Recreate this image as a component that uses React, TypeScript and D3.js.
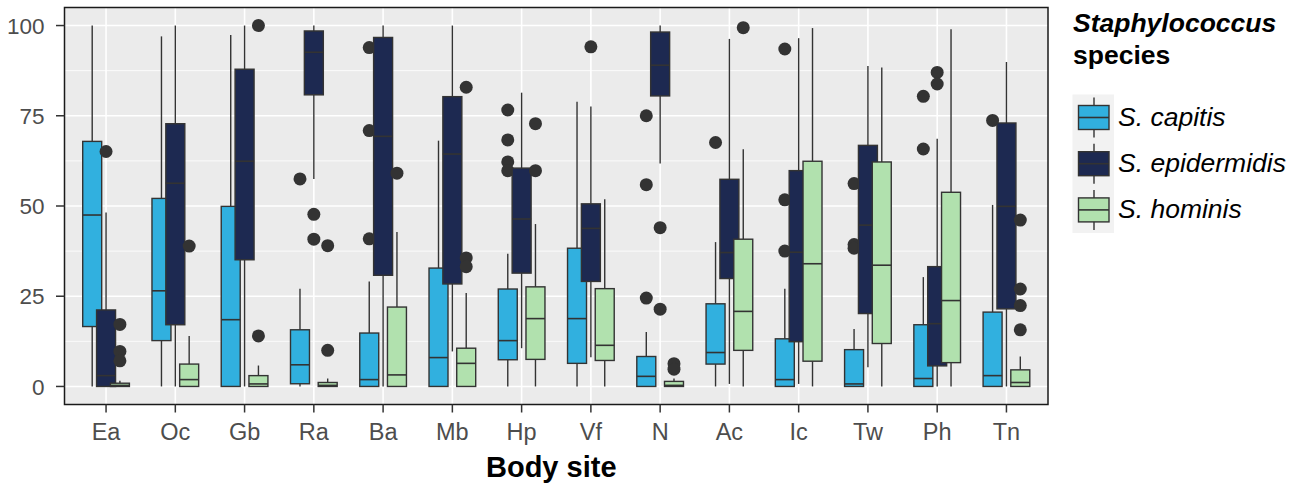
import React from "react";
import * as d3 from "d3";

// body sites on the x axis
const sites = ["Ea", "Oc", "Gb", "Ra", "Ba", "Mb", "Hp", "Vf", "N", "Ac", "Ic", "Tw", "Ph", "Tn"];
const species = ["S. capitis", "S. epidermidis", "S. hominis"];
const yTicks = [0, 25, 50, 75, 100];

// [lower whisker, q1, median, q3, upper whisker] per site
const capitisStats = [
  [0, 16.6, 47.5, 67.9, 100], [0, 12.7, 26.5, 52.1, 97], [0, 0, 18.5, 49.9, 97.4],
  [0, 0.75, 6.0, 15.7, 27.1], [0, 0, 1.9, 14.8, 29.1], [0, 0, 8.0, 32.8, 68.1],
  [0, 7.4, 12.7, 27.0, 36.8], [0, 6.4, 18.8, 38.3, 78.9], [0, 0, 2.8, 8.3, 15.1],
  [0, 6.2, 9.4, 22.9, 40.0], [0, 0, 1.9, 13.2, 27.1], [0, 0, 0.7, 10.2, 15.9],
  [0, 0, 2.2, 17.1, 30.3], [0, 0, 3.0, 20.6, 50.3],
];
const capitisOutliers = [
  [], [], [], [57.5], [93.9, 70.9, 40.9], [], [76.6, 68.3, 62.2, 59.8], [],
  [75.0, 55.9, 24.5], [67.6], [93.5, 51.7, 37.5], [56.2, 39.3, 38.3], [80.4, 65.8], [73.7],
];

const epidermidisStats = [
  [0, 0, 3.0, 21.2, 48.2], [0, 17.1, 56.3, 72.8, 100], [0, 35.1, 62.4, 87.9, 100],
  [57.5, 80.8, 92.6, 98.5, 100], [0, 30.8, 69.3, 96.7, 100], [9.7, 28.4, 64.4, 80.3, 100],
  [10.6, 31.4, 46.4, 60.5, 81.4], [8.1, 29.1, 43.8, 50.6, 77.6], [61.8, 80.5, 89.0, 98.2, 100],
  [0.7, 29.9, 37.1, 57.4, 96.3], [0.7, 12.4, 37.2, 59.8, 96.5], [5.3, 20.2, 44.7, 66.8, 88.8],
  [0, 5.7, 17.4, 33.2, 68.6], [0, 21.5, 49.9, 73.0, 89.9],
];
const epidermidisOutliers = [
  [65.1], [], [], [47.7, 40.8], [], [], [], [94.1], [44.0, 21.4], [], [], [], [87.0, 83.8], [],
];

const hominisStats = [
  [0, 0, 0.3, 0.9, 1.6], [0, 0, 1.9, 6.2, 14.0], [0, 0, 0.7, 3.0, 5.8],
  [0, 0, 0.3, 1.1, 2.2], [0, 0, 3.2, 22.0, 42.8], [0, 0, 6.4, 10.6, 25.9],
  [0, 7.5, 18.8, 27.6, 45.0], [0, 7.2, 11.4, 27.1, 51.9], [0, 0, 0.3, 1.4, 2.2],
  [0, 10.0, 20.8, 40.8, 65.7], [0, 7.0, 34.0, 62.4, 99.3], [0, 11.9, 33.6, 62.2, 88.4],
  [0, 6.6, 23.8, 53.8, 99.0], [0, 0, 1.1, 4.6, 8.3],
];
const hominisOutliers = [
  [17.2, 9.7, 7.1], [38.9], [100, 14.0], [39.0, 10.0], [59.1], [82.9, 35.6, 33.2],
  [72.8, 59.8], [], [6.3, 4.8], [99.4], [], [], [], [46.1, 27.0, 22.4, 15.7],
];

const fills = ["#31B0DF", "#1D2951", "#B1E1AE"];
const stats = [capitisStats, epidermidisStats, hominisStats];
const outliers = [capitisOutliers, epidermidisOutliers, hominisOutliers];

const W = 1293;
const H = 486;
const margin = { top: 7.5, right: 245, bottom: 81.5, left: 64.5 };
const FONT = "'Liberation Sans', Arial, Helvetica, sans-serif";

export default function App() {
  const x = d3.scaleBand<string>()
    .domain(sites)
    .range([margin.left, W - margin.right])
    .paddingInner(0)
    .paddingOuter(0.1);
  const y = d3.scaleLinear().domain([-5, 105]).range([H - margin.bottom, margin.top]);
  const step = x.step();
  const boxW = step * 0.274;
  const dodge = d3.scaleLinear().domain([0, 2]).range([-0.2 * step, 0.2 * step]);
  const cx = (s: string) => (x(s) as number) + x.bandwidth() / 2;

  const minor = d3.range(-12.5, 105, 25).filter((v) => v > -5 && v < 105);
  const line = "#333333";

  return (
    <svg width={W} height={H} style={{ position: "absolute", left: 0, top: 0, fontFamily: FONT }}>
      <rect x={0} y={0} width={W} height={H} fill="white" />
      {/* panel */}
      <rect x={margin.left} y={margin.top} width={W - margin.right - margin.left}
        height={H - margin.bottom - margin.top} fill="#EBEBEB" />
      {minor.map((v) => (
        <line key={"mn" + v} x1={margin.left} x2={W - margin.right} y1={y(v)} y2={y(v)}
          stroke="white" strokeWidth={0.8} />
      ))}
      {yTicks.map((v) => (
        <line key={"mj" + v} x1={margin.left} x2={W - margin.right} y1={y(v)} y2={y(v)}
          stroke="white" strokeWidth={1.6} />
      ))}
      {sites.map((s) => (
        <line key={"vg" + s} x1={cx(s)} x2={cx(s)} y1={margin.top} y2={H - margin.bottom}
          stroke="white" strokeWidth={1.6} />
      ))}

      {/* boxes */}
      {sites.map((s, i) => (
        <g key={"site" + s}>
          {species.map((sp, k) => {
            const [lo, q1, med, q3, hi] = stats[k][i];
            const c = cx(s) + dodge(k);
            return (
              <g key={sp}>
                {outliers[k][i].map((v, j) => (
                  <circle key={j} cx={c} cy={y(v)} r={6.5} fill="#333333" />
                ))}
                <line x1={c} x2={c} y1={y(hi)} y2={y(q3)} stroke={line} strokeWidth={1.4} />
                <line x1={c} x2={c} y1={y(q1)} y2={y(lo)} stroke={line} strokeWidth={1.4} />
                <rect x={c - boxW / 2} y={y(q3)} width={boxW} height={Math.max(0, y(q1) - y(q3))}
                  fill={fills[k]} stroke={line} strokeWidth={1.4} />
                <line x1={c - boxW / 2} x2={c + boxW / 2} y1={y(med)} y2={y(med)}
                  stroke={line} strokeWidth={1.6} />
              </g>
            );
          })}
        </g>
      ))}

      <rect x={margin.left} y={margin.top} width={W - margin.right - margin.left}
        height={H - margin.bottom - margin.top} fill="none" stroke="#1a1a1a" strokeWidth={1.5} />

      {/* y axis */}
      {yTicks.map((v) => (
        <g key={"yt" + v}>
          <line x1={margin.left - 8.5} x2={margin.left} y1={y(v)} y2={y(v)} stroke={line} strokeWidth={1.5} />
          <text x={margin.left - 20} y={y(v)} dy="0.36em" textAnchor="end" fontSize={22.5} fill="#4D4D4D">{v}</text>
        </g>
      ))}

      {/* x axis */}
      {sites.map((s) => (
        <g key={"xt" + s}>
          <line x1={cx(s)} x2={cx(s)} y1={H - margin.bottom} y2={H - margin.bottom + 8} stroke={line} strokeWidth={1.5} />
          <text x={cx(s)} y={439.5} textAnchor="middle" fontSize={23.5} fill="#4D4D4D">{s}</text>
        </g>
      ))}
      <text x={(margin.left + W - margin.right) / 2 - 5} y={477} textAnchor="middle" fontSize={29}
        fontWeight="bold" fill="black">Body site</text>

      {/* legend */}
      <text x={1073} y={32} fontSize={26.5} fontWeight="bold" fontStyle="italic" fill="black">Staphylococcus</text>
      <text x={1073} y={63.5} fontSize={26.5} fontWeight="bold" fill="black">species</text>
      <rect x={1072.5} y={94.5} width={41.5} height={138.5} fill="#F2F2F2" />
      {species.map((sp, k) => {
        const top = 94.5 + k * 46.2;
        const kc = 1094;
        return (
          <g key={"lg" + sp}>
            <line x1={kc} x2={kc} y1={top + 3} y2={top + 43} stroke={line} strokeWidth={1.4} />
            <rect x={1078.5} y={top + 11} width={30.5} height={24} fill={fills[k]} stroke={line} strokeWidth={1.4} />
            <line x1={1078.5} x2={1109} y1={top + 23} y2={top + 23} stroke={line} strokeWidth={1.6} />
            <text x={1118} y={top + 31.5} fontSize={26.5} fontStyle="italic" fill="black">{sp}</text>
          </g>
        );
      })}
    </svg>
  );
}
